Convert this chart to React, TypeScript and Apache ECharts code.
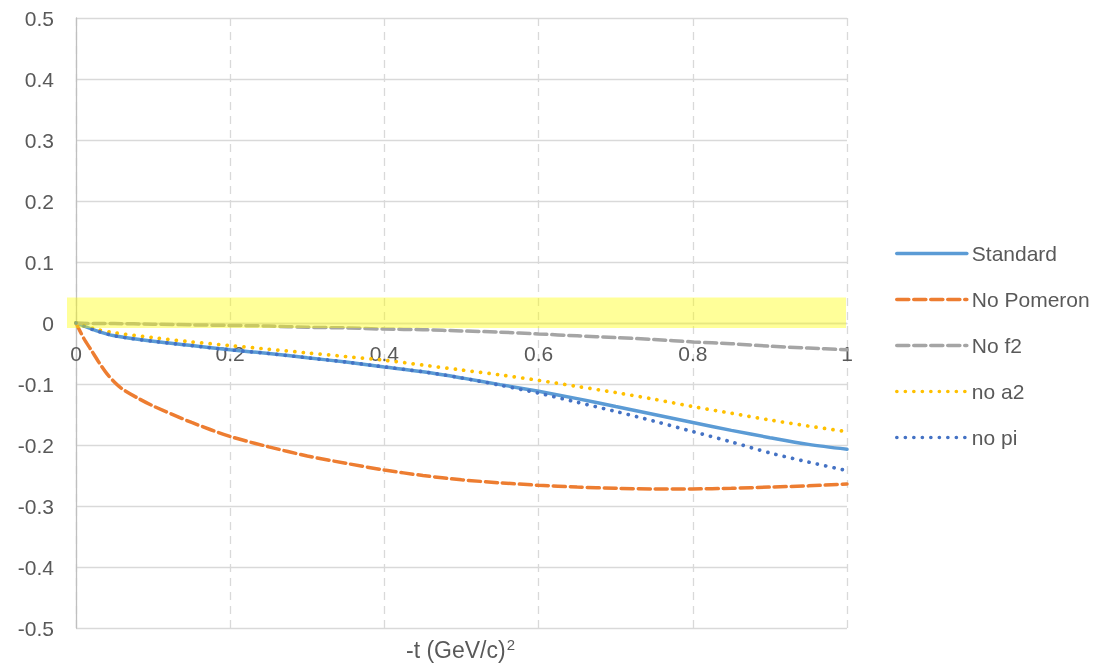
import React, { useEffect, useRef } from "react";
import * as echarts from "echarts";

const tGrid = [0, 0.025, 0.05, 0.1, 0.15, 0.2, 0.25, 0.3, 0.35, 0.4, 0.45, 0.5, 0.55, 0.6, 0.65, 0.7, 0.75, 0.8, 0.85, 0.9, 0.95, 1.0];
const standard = [0, -0.012, -0.021, -0.030, -0.037, -0.044, -0.050, -0.057, -0.064, -0.072, -0.080, -0.090, -0.101, -0.112, -0.124, -0.137, -0.150, -0.163, -0.176, -0.188, -0.199, -0.207];
const noPi = [0, -0.012, -0.021, -0.030, -0.037, -0.044, -0.050, -0.057, -0.064, -0.072, -0.080, -0.090, -0.102, -0.115, -0.130, -0.145, -0.161, -0.178, -0.195, -0.213, -0.228, -0.242];
const noA2 = [0, -0.010, -0.016, -0.024, -0.031, -0.037, -0.043, -0.049, -0.055, -0.061, -0.069, -0.077, -0.085, -0.094, -0.104, -0.114, -0.125, -0.137, -0.148, -0.159, -0.169, -0.178];
const noF2 = [0, -0.001, -0.001, -0.002, -0.003, -0.004, -0.005, -0.007, -0.008, -0.010, -0.011, -0.013, -0.015, -0.018, -0.021, -0.024, -0.027, -0.031, -0.034, -0.038, -0.041, -0.044];

const tPom = [0, 0.01, 0.02, 0.03, 0.04, 0.05, 0.06, 0.08, 0.1, 0.15, 0.2, 0.25, 0.3, 0.35, 0.4, 0.45, 0.5, 0.55, 0.6, 0.65, 0.7, 0.75, 0.8, 0.85, 0.9, 0.95, 1.0];
const noPomeron = [0, -0.025, -0.045, -0.065, -0.083, -0.097, -0.108, -0.123, -0.136, -0.163, -0.186, -0.203, -0.218, -0.230, -0.241, -0.250, -0.257, -0.262, -0.266, -0.269, -0.271, -0.272, -0.272, -0.271, -0.269, -0.267, -0.264];

const seriesNames = ["Standard", "No Pomeron", "No f2", "no a2", "no pi"];
const xTitleMain = "-t (GeV/c)";
const xTitleSup = "2";
const bandRange = [0.042, -0.008];

const FONT = "'Liberation Sans', Arial, sans-serif";
const TEXT = "#595959";

const zip = (xs: number[], ys: number[]) => xs.map((x, i) => [x, ys[i]]);

export default function App() {
  const ref = useRef<HTMLDivElement>(null);
  useEffect(() => {
    if (!ref.current) return;
    const chart = echarts.init(ref.current, undefined, { renderer: "svg" });
    const gridLeft = 76;
    const gridRight = 254;
    const gridTop = 18;
    const gridBottom = 38;
    const plotH = 666 - gridTop - gridBottom;
    const dash = [12, 5];
    const dot = [0.1, 8.4];
    const mk = (name: string, data: number[][], color: string, type: any, width: number, z: number) => ({
      name,
      type: "line",
      data,
      smooth: 0.3,
      showSymbol: false,
      symbol: "none",
      z,
      lineStyle: { color, width, type, cap: "round" },
      itemStyle: { color },
    });
    chart.setOption({
      animation: false,
      textStyle: { fontFamily: FONT },
      grid: { left: gridLeft, right: gridRight, top: gridTop, bottom: gridBottom },
      xAxis: {
        type: "value",
        min: 0,
        max: 1,
        interval: 0.2,
        position: "bottom",
        offset: -plotH / 2,
        axisLine: { show: true, onZero: false, lineStyle: { color: "#D9D9D9", width: 1.3 } },
        axisTick: { show: false },
        axisLabel: { color: TEXT, fontSize: 21, fontFamily: FONT, margin: 20 },
        splitLine: { show: true, lineStyle: { color: "#D9D9D9", type: [8, 6], width: 1.3 } },
      },
      yAxis: {
        type: "value",
        min: -0.5,
        max: 0.5,
        interval: 0.1,
        axisLine: { show: true, onZero: false, lineStyle: { color: "#BFBFBF", width: 1.3 } },
        axisTick: { show: false },
        axisLabel: { color: TEXT, fontSize: 21, fontFamily: FONT, margin: 22 },
        splitLine: { show: true, lineStyle: { color: "#D9D9D9", width: 1.3 } },
      },
      legend: {
        orient: "vertical",
        left: 895,
        top: 243,
        padding: 0,
        itemWidth: 70,
        itemHeight: 6,
        itemGap: 25,
        itemStyle: { opacity: 0 },
        lineStyle: { width: 3.6 },
        textStyle: { color: TEXT, fontSize: 21, fontFamily: FONT },
        data: seriesNames,
      },
      series: [
        mk(seriesNames[0], zip(tGrid, standard), "#5B9BD5", "solid", 3.5, 2),
        mk(seriesNames[1], zip(tPom, noPomeron), "#ED7D31", dash, 3.5, 3),
        mk(seriesNames[2], zip(tGrid, noF2), "#A5A5A5", dash, 3.5, 3),
        mk(seriesNames[3], zip(tGrid, noA2), "#FFC000", dot, 3.7, 4),
        mk(seriesNames[4], zip(tGrid, noPi), "#4472C4", dot, 3.7, 5),
      ],
    });
    const p0 = chart.convertToPixel({ gridIndex: 0 }, [0, bandRange[0]]) as number[];
    const p1 = chart.convertToPixel({ gridIndex: 0 }, [1, bandRange[1]]) as number[];
    chart.setOption({
      graphic: [
        {
          type: "rect",
          z: 100,
          shape: { x: p0[0] - 9, y: p0[1], width: p1[0] - p0[0] + 8, height: p1[1] - p0[1] },
          style: { fill: "rgba(255,255,0,0.4)" },
        },
        {
          type: "text",
          x: (p0[0] + p1[0]) / 2 - 1,
          y: 650,
          style: {
            text: `{m|${xTitleMain}}{s|${xTitleSup}}`,
            align: "center",
            verticalAlign: "middle",
            rich: {
              m: { fill: TEXT, fontSize: 23, fontFamily: FONT },
              s: { fill: TEXT, fontSize: 15, fontFamily: FONT, padding: [0, 0, 12, 1] },
            },
          },
        },
      ],
    });
    return () => chart.dispose();
  }, []);
  return <div ref={ref} style={{ position: "fixed", left: 0, top: 0, width: 1101, height: 666 }} />;
}
